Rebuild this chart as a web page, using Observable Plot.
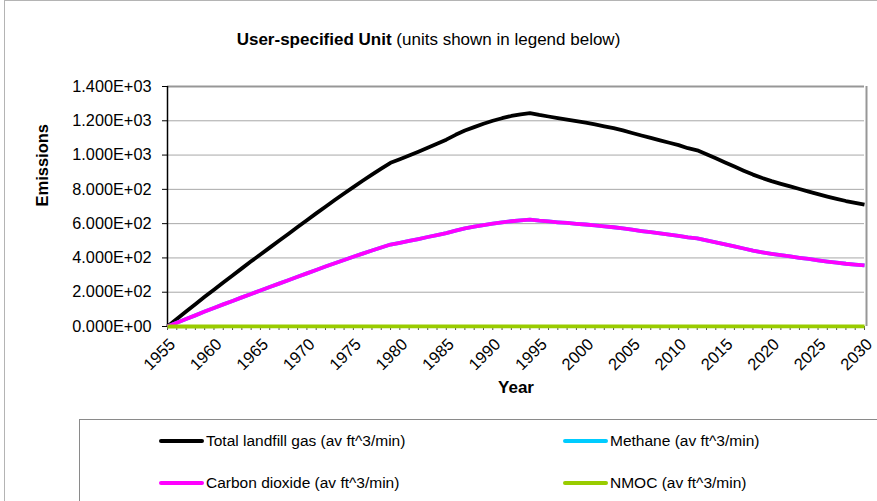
<!DOCTYPE html>
<html>
<head>
<meta charset="utf-8">
<script src="https://cdn.jsdelivr.net/npm/d3@7"></script>
<script src="https://cdn.jsdelivr.net/npm/@observablehq/plot@0.6"></script>
<style>
  html, body { margin: 0; padding: 0; background: #fff; }
  #wrap { position: relative; width: 877px; height: 501px; overflow: hidden; font-family: "Liberation Sans", Arial, sans-serif; }
  #frame { position: absolute; left: 4px; top: 0; width: 900px; height: 600px; border-top: 1px solid #b4b4b4; border-left: 1px solid #b4b4b4; }
  #title { position: absolute; left: 0; top: 30px; width: 857px; text-align: center; font-size: 17px; line-height: 20px; color: #000; }
  #chart { position: absolute; left: 0; top: 0; }
  #legend { position: absolute; left: 79px; top: 419px; width: 900px; height: 200px; border-top: 1px solid #8a8a8a; border-left: 1px solid #8a8a8a; }
  .item { position: absolute; height: 20px; display: flex; align-items: center; font-size: 15.5px; white-space: nowrap; color: #000; }
  .sw { width: 45px; height: 4px; border-radius: 2px; margin-right: 2px; }
</style>
</head>
<body>
<div id="wrap">
  <div id="frame"></div>
  <div id="chart"></div>
  <div id="title"><b>User-specified Unit</b> (units shown in legend below)</div>
  <div id="legend"></div>
</div>
<script>
const years = [1955,1956,1957,1958,1959,1960,1961,1962,1963,1964,
  1965,1966,1967,1968,1969,1970,1971,1972,1973,1974,
  1975,1976,1977,1978,1979,1980,1981,1982,1983,1984,
  1985,1986,1987,1988,1989,1990,1991,1992,1993,1994,
  1995,1996,1997,1998,1999,2000,2001,2002,2003,2004,
  2005,2006,2007,2008,2009,2010,2011,2012,2013,2014,
  2015,2016,2017,2018,2019,2020,2021,2022,2023,2024,
  2025,2026,2027,2028,2029,2030];

const totalGas = [0,44,87,130,173,215,257,298,339,380,
  420,460,500,540,580,620,660,699,738,776,
  813,850,886,921,955,976,998,1020,1043,1066,
  1090,1118,1143,1163,1183,1200,1215,1228,1238,1245,
  1234,1225,1216,1207,1198,1189,1179,1168,1157,1144,
  1129,1114,1100,1086,1072,1058,1040,1028,1005,981,
  957,933,909,886,866,848,832,817,802,787,
  772,758,745,732,721,711];

const methane = [0,22,44,65,87,108,129,149,170,190,
  210,230,250,270,290,310,330,350,369,388,
  407,425,443,461,478,488,499,510,522,533,
  545,559,572,582,592,600,608,614,619,623,
  617,613,608,604,599,595,590,584,579,572,
  565,557,550,543,536,529,520,514,503,491,
  479,467,455,443,433,424,416,409,401,394,
  386,379,373,366,361,356];

const carbonDioxide = [0,22,44,65,87,108,129,149,170,190,
  210,230,250,270,290,310,330,350,369,388,
  407,425,443,461,478,488,499,510,522,533,
  545,559,572,582,592,600,608,614,619,623,
  617,613,608,604,599,595,590,584,579,572,
  565,557,550,543,536,529,520,514,503,491,
  479,467,455,443,433,424,416,409,401,394,
  386,379,373,366,361,356];

const nmoc = [0,0.03,0.05,0.08,0.1,0.13,0.15,0.18,0.2,0.23,
  0.25,0.28,0.3,0.32,0.35,0.37,0.4,0.42,0.44,0.47,
  0.49,0.51,0.53,0.55,0.57,0.59,0.6,0.61,0.63,0.64,
  0.65,0.67,0.69,0.7,0.71,0.72,0.73,0.74,0.74,0.75,
  0.74,0.74,0.73,0.72,0.72,0.71,0.71,0.7,0.69,0.69,
  0.68,0.67,0.66,0.65,0.64,0.63,0.62,0.62,0.6,0.59,
  0.57,0.56,0.55,0.53,0.52,0.51,0.5,0.49,0.48,0.47,
  0.46,0.45,0.45,0.44,0.43,0.43];

const xTickLabels = [1955,1960,1965,1970,1975,1980,1985,1990,1995,2000,2005,2010,2015,2020,2025,2030];
const yTicks = [0,200,400,600,800,1000,1200,1400];

const seriesNames = ["Total landfill gas (av ft^3/min)", "Methane (av ft^3/min)", "Carbon dioxide (av ft^3/min)", "NMOC (av ft^3/min)"];
const seriesColors = ["#000000", "#00ccff", "#ff00ff", "#99cc00"];
const seriesValues = [totalGas, methane, carbonDioxide, nmoc];

function sci(v) {
  const [m, e] = v.toExponential(3).split("e");
  const sign = e[0] === "-" ? "-" : "+";
  const digits = e.replace(/^[+-]/, "").padStart(2, "0");
  return `${m}E${sign}${digits}`;
}

const lineMarks = seriesValues.map((vals, i) =>
  Plot.line(years, {x: years, y: vals, stroke: seriesColors[i], strokeWidth: 3.8, strokeLinejoin: "round", strokeLinecap: "butt"})
);

const chart = Plot.plot({
  width: 877,
  height: 418,
  marginTop: 86,
  marginLeft: 167,
  marginRight: 13,
  marginBottom: 92,
  style: {fontFamily: "'Liberation Sans', Arial, sans-serif", fontSize: "16px", background: "transparent", color: "#000", overflow: "visible"},
  x: {domain: [1955, 2030], label: null},
  y: {domain: [0, 1400], label: null},
  marks: [
    Plot.ruleY(yTicks.slice(1, -1), {stroke: "#a8a8a8", strokeWidth: 1}),
    Plot.ruleY([1400], {stroke: "#979797", strokeWidth: 2}),
    Plot.ruleX([2030], {stroke: "#979797", strokeWidth: 2, dx: 2}),
    Plot.axisX({ticks: years, tickSize: 4, tickFormat: () => "", stroke: "#555"}),
    Plot.axisX({ticks: xTickLabels, tickSize: 0, tickRotate: -45, tickPadding: 15, dx: 5, fontSize: 16.5, tickFormat: d => String(d), label: null}),
    Plot.axisY({ticks: yTicks, tickSize: 5, tickPadding: 11, fontSize: 16.3, tickFormat: sci, label: null}),
    Plot.ruleX([1955], {stroke: "#000", strokeWidth: 1.5}),
    Plot.ruleY([0], {stroke: "#000", strokeWidth: 1}),
    ...lineMarks,
    Plot.text(["Year"], {frameAnchor: "bottom", dy: 66, fontWeight: "bold", fontSize: 17}),
    Plot.text(["Emissions"], {frameAnchor: "left", dx: -125, rotate: -90, fontWeight: "bold", fontSize: 16.5})
  ]
});
document.getElementById("chart").appendChild(chart);

const legend = document.getElementById("legend");
const pos = [[79, 21], [483, 21], [79, 63], [483, 63]];
seriesNames.forEach((name, i) => {
  const it = document.createElement("div");
  it.className = "item";
  it.style.left = pos[i][0] + "px";
  it.style.top = (pos[i][1] - 10) + "px";
  const sw = document.createElement("div");
  sw.className = "sw";
  sw.style.background = seriesColors[i];
  const tx = document.createElement("span");
  tx.textContent = name;
  it.appendChild(sw);
  it.appendChild(tx);
  legend.appendChild(it);
});
</script>
</body>
</html>
